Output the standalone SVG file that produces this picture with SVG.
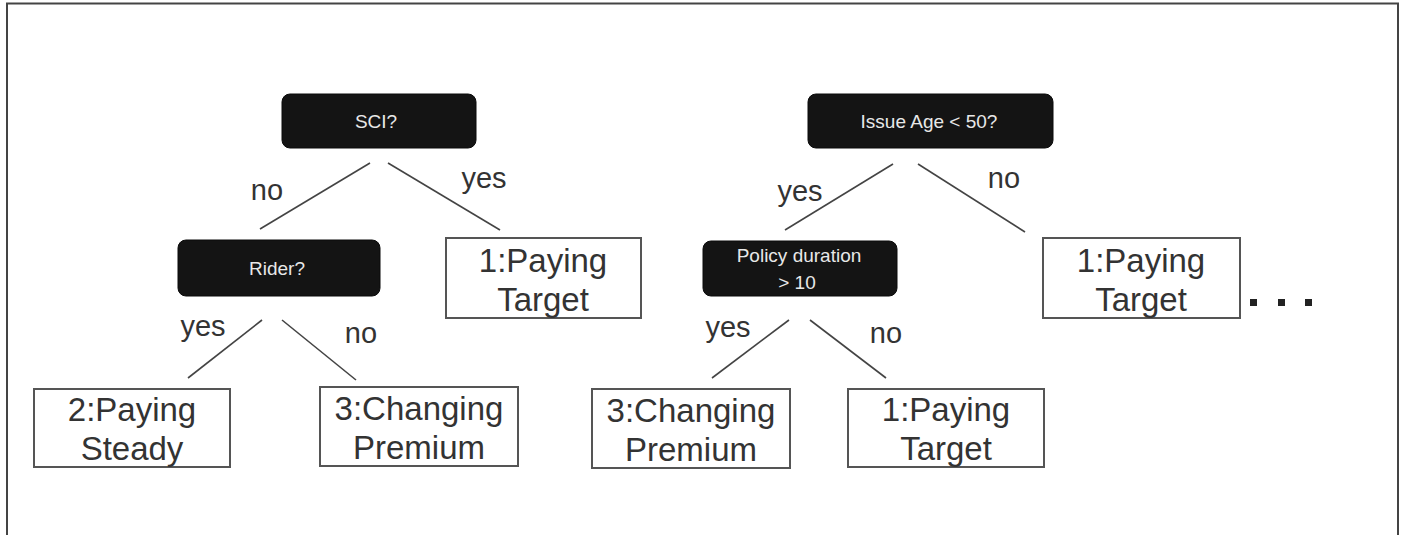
<svg xmlns="http://www.w3.org/2000/svg" width="1403" height="535" viewBox="0 0 1403 535">
<style>
.frame{fill:none;stroke:#444;stroke-width:2}
.dec{fill:#141414;stroke:#0a0a0a;stroke-width:1}
.dt{fill:#e8e8e8;font-family:"Liberation Sans",Arial,sans-serif;font-size:19px;text-anchor:middle}
.leaf{fill:#fff;stroke:#555;stroke-width:2}
.lt{fill:#333;font-family:"Liberation Sans",Arial,sans-serif;font-size:33px;text-anchor:middle}
.edge{stroke:#444;stroke-width:1.6;fill:none}
.el{fill:#333;font-family:"Liberation Sans",Arial,sans-serif;font-size:29px;text-anchor:middle}
</style>
<rect width="1403" height="535" fill="#fff"/>
<path class="frame" d="M7,540 V3.5 H1398 V540"/>
<g id="connectors">
<line class="edge" x1="370" y1="163" x2="260" y2="229"/>
<line class="edge" x1="388" y1="163" x2="500" y2="230"/>
<line class="edge" x1="893" y1="164" x2="785" y2="230"/>
<line class="edge" x1="918" y1="164" x2="1025" y2="232"/>
<line class="edge" x1="262" y1="320" x2="188" y2="378"/>
<line class="edge" x1="282" y1="320" x2="356" y2="380"/>
<line class="edge" x1="789" y1="320" x2="712" y2="378"/>
<line class="edge" x1="810" y1="320" x2="886" y2="378"/>
<text class="el" x="267" y="200">no</text>
<text class="el" x="484" y="188">yes</text>
<text class="el" x="800" y="201">yes</text>
<text class="el" x="1004" y="188">no</text>
<text class="el" x="203" y="336">yes</text>
<text class="el" x="361" y="343">no</text>
<text class="el" x="728" y="337">yes</text>
<text class="el" x="886" y="343">no</text>
</g>
<g id="sci">
<rect class="dec" x="282" y="94" width="194" height="54" rx="8"/>
<text class="dt" x="376" y="128">SCI?</text>
</g>
<g id="issue-age">
<rect class="dec" x="808" y="94" width="245" height="54" rx="8"/>
<text class="dt" x="929" y="128">Issue Age &lt; 50?</text>
</g>
<g id="rider">
<rect class="dec" x="178" y="240" width="202" height="56" rx="8"/>
<text class="dt" x="277" y="275">Rider?</text>
</g>
<g id="policy-duration">
<rect class="dec" x="703" y="241" width="194" height="55" rx="8"/>
<text class="dt" x="799" y="262">Policy duration</text>
<text class="dt" x="797" y="289">&gt; 10</text>
</g>
<g id="leaf-target-1">
<rect class="leaf" x="446" y="238" width="195" height="80"/>
<text class="lt" x="543" y="272">1:Paying</text>
<text class="lt" x="543" y="311">Target</text>
</g>
<g id="leaf-target-2">
<rect class="leaf" x="1043" y="238" width="197" height="80"/>
<text class="lt" x="1141" y="272">1:Paying</text>
<text class="lt" x="1141" y="311">Target</text>
</g>
<g id="leaf-steady">
<rect class="leaf" x="34" y="389" width="196" height="78"/>
<text class="lt" x="132" y="421">2:Paying</text>
<text class="lt" x="132" y="460">Steady</text>
</g>
<g id="leaf-changing-1">
<rect class="leaf" x="320" y="387" width="198" height="79"/>
<text class="lt" x="419" y="420">3:Changing</text>
<text class="lt" x="419" y="459">Premium</text>
</g>
<g id="leaf-changing-2">
<rect class="leaf" x="592" y="389" width="198" height="79"/>
<text class="lt" x="691" y="422">3:Changing</text>
<text class="lt" x="691" y="461">Premium</text>
</g>
<g id="leaf-target-3">
<rect class="leaf" x="848" y="389" width="196" height="78"/>
<text class="lt" x="946" y="421">1:Paying</text>
<text class="lt" x="946" y="460">Target</text>
</g>
<g id="ellipsis" fill="#222">
<rect x="1250" y="299" width="7" height="7"/>
<rect x="1278" y="299" width="7" height="7"/>
<rect x="1305" y="299" width="7" height="7"/>
</g>
</svg>
